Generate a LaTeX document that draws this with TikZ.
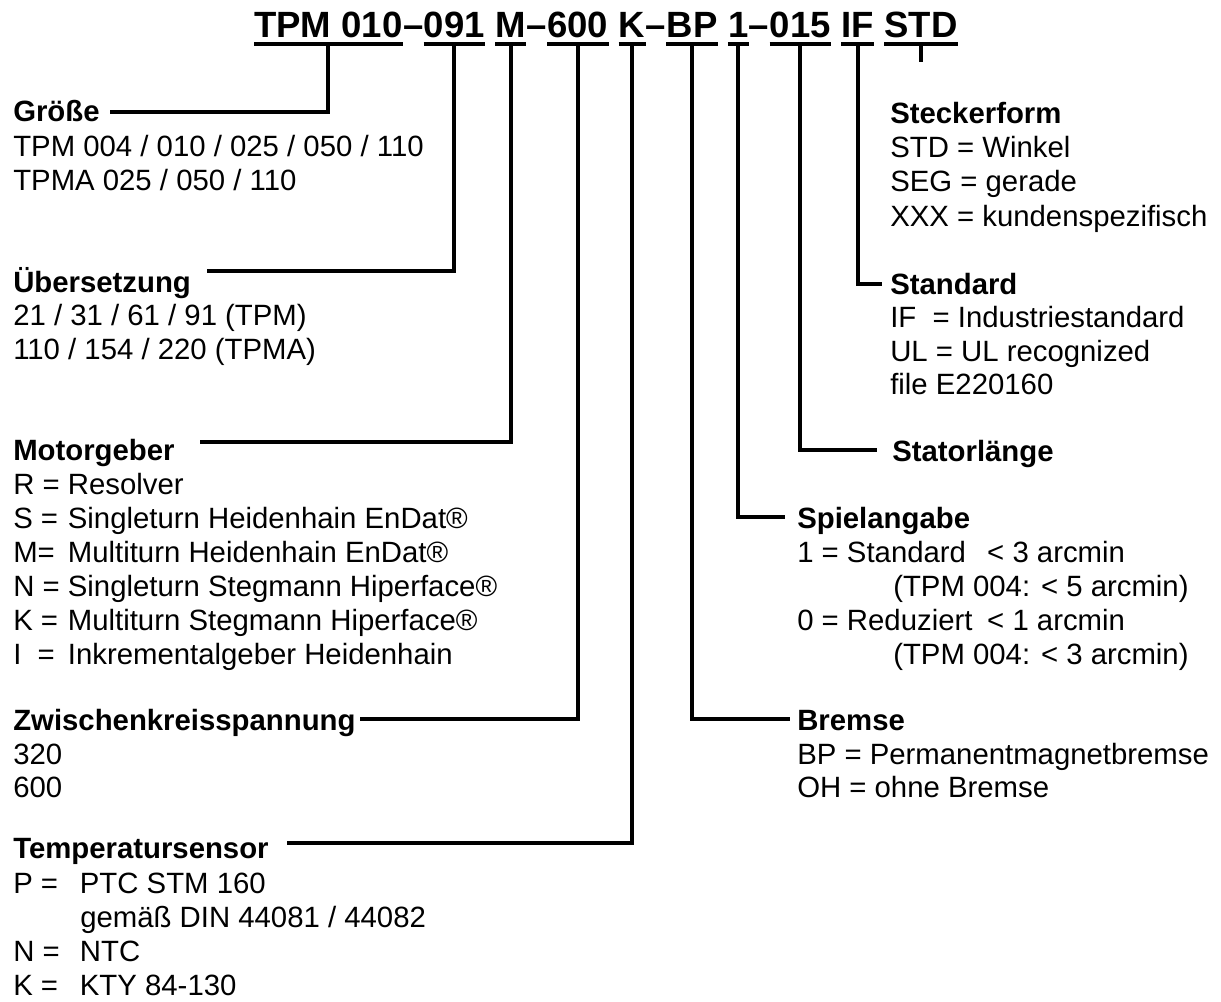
\documentclass[tikz,border=0pt]{standalone}
\usepackage{fontspec}
\setmainfont{Liberation Sans}
\usetikzlibrary{calc}
\begin{document}
\begin{tikzpicture}[x=0.75pt,y=-0.75pt,
  conn/.style={line width=3pt,line cap=butt,line join=miter},
  ttl/.style={font=\fontsize{27.4}{30}\selectfont\bfseries,inner sep=0pt,anchor=base west},
  hd/.style={font=\fontsize{22}{25.5}\selectfont\bfseries,inner sep=0pt,anchor=base west},
  bd/.style={font=\fontsize{22}{25.5}\selectfont,inner sep=0pt,anchor=base west},
]
\useasboundingbox (0,0) rectangle (1221,1002);
\fill[white] (0,0) rectangle (1221,1002);

% ---------- title code ----------
\node[ttl] (t1) at (254,38) {TPM 010};
\node[ttl] (d1) at (t1.base east) {–};
\node[ttl] (t2) at (d1.base east) {091};
\node[ttl] (t3) at ([xshift=7.6pt]t2.base east) {M};
\node[ttl] (d2) at (t3.base east) {–};
\node[ttl] (t4) at (d2.base east) {600};
\node[ttl] (t5) at ([xshift=7.6pt]t4.base east) {K};
\node[ttl] (d3) at (t5.base east) {–};
\node[ttl] (t6) at (d3.base east) {BP};
\node[ttl] (t7) at ([xshift=7.6pt]t6.base east) {1};
\node[ttl] (d4) at (t7.base east) {–};
\node[ttl] (t8) at (d4.base east) {015};
\node[ttl] (t9) at ([xshift=7.6pt]t8.base east) {IF};
\node[ttl] (t10) at ([xshift=7.6pt]t9.base east) {STD};
\foreach \n in {t1,t2,t3,t4,t5,t6,t7,t8,t9,t10}
  \draw[conn] ($(\n.base west)+(0,6)$) -- ($(\n.base east)+(0,6)$);

% ---------- left column ----------
\node[hd] (hGr) at (13,122) {Größe};
\node[bd] (bGr1) at (13,157) {TPM 004 / 010 / 025 / 050 / 110};
\node[bd] (bGr2) at (13,191) {TPMA 025 / 050 / 110};

\node[hd] (hUe) at (13,292) {Übersetzung};
\node[bd] (bUe1) at (13,325) {21 / 31 / 61 / 91 (TPM)};
\node[bd] (bUe2) at (13,359) {110 / 154 / 220 (TPMA)};

\node[hd] (hMo) at (13,460) {Motorgeber};
\node[bd] (bMo1) at (13,494) {\makebox[41pt][l]{R =}Resolver};
\node[bd] (bMo2) at (13,528) {\makebox[41pt][l]{S =}Singleturn Heidenhain EnDat®};
\node[bd] (bMo3) at (13,562) {\makebox[41pt][l]{M=}Multiturn Heidenhain EnDat®};
\node[bd] (bMo4) at (13,596) {\makebox[41pt][l]{N =}Singleturn Stegmann Hiperface®};
\node[bd] (bMo5) at (13,630) {\makebox[41pt][l]{K =}Multiturn Stegmann Hiperface®};
\node[bd] (bMo6) at (13,664) {\makebox[41pt][l]{I\ \ =}Inkrementalgeber Heidenhain};

\node[hd] (hZw) at (13,730) {Zwischenkreisspannung};
\node[bd] (bZw1) at (13,764) {320};
\node[bd] (bZw2) at (13,797) {600};

\node[hd] (hTe) at (13,858) {Temperatursensor};
\node[bd] (bTe1) at (13,893) {\makebox[50pt][l]{P =}PTC STM 160};
\node[bd] (bTe2) at (80,927) {gemäß DIN 44081 / 44082};
\node[bd] (bTe3) at (13,961) {\makebox[50pt][l]{N =}NTC};
\node[bd] (bTe4) at (13,995) {\makebox[50pt][l]{K =}KTY 84-130};

% ---------- right column ----------
\node[hd] (hSt) at (890,124) {Steckerform};
\node[bd] (bSt1) at (890,158) {STD = Winkel};
\node[bd] (bSt2) at (890,192) {SEG = gerade};
\node[bd] (bSt3) at (890,226) {XXX = kundenspezifisch};

\node[hd] (hSd) at (890,294) {Standard};
\node[bd] (bSd1) at (890,327) {IF\ \ = Industriestandard};
\node[bd] (bSd2) at (890,361) {UL = UL recognized};
\node[bd] (bSd3) at (890,394) {file E220160};

\node[hd] (hSl) at (892,461) {Statorlänge};

\node[hd] (hSp) at (797,528) {Spielangabe};
\node[bd] (bSp1) at (797,562) {\makebox[142.5pt][l]{1 = Standard}< 3 arcmin};
\node[bd] (bSp2) at (893,596) {(TPM 004: < 5 arcmin)};
\node[bd] (bSp3) at (797,630) {\makebox[142.5pt][l]{0 = Reduziert}< 1 arcmin};
\node[bd] (bSp4) at (893,664) {(TPM 004: < 3 arcmin)};

\node[hd] (hBr) at (797,730) {Bremse};
\node[bd] (bBr1) at (797,764) {BP = Permanentmagnetbremse};
\node[bd] (bBr2) at (797,797) {OH = ohne Bremse};

% ---------- connectors ----------
\coordinate (g1) at (110,112);
\coordinate (g2) at (207,271);
\coordinate (g3) at (200,442);
\coordinate (g4) at (360,719);
\coordinate (g5) at (287,843);
\coordinate (g6) at (790,719);
\coordinate (g7) at (785,517);
\coordinate (g8) at (877,450);
\coordinate (g9) at (882,284);

\draw[conn] ($(t1.base)+(0,6)$) |- (g1);
\draw[conn] ($(t2.base)+(0,6)$) |- (g2);
\draw[conn] ($(t3.base)+(0,6)$) |- (g3);
\draw[conn] ($(t4.base)+(0,6)$) |- (g4);
\draw[conn] ($(t5.base)+(0,6)$) |- (g5);
\draw[conn] ($(t6.base)+(0,6)$) |- (g6);
\draw[conn] ($(t7.base)+(0,6)$) |- (g7);
\draw[conn] ($(t8.base)+(0,6)$) |- (g8);
\draw[conn] ($(t9.base)+(0,6)$) |- (g9);
\draw[conn] ($(t10.base)+(0,6)$) -- ($(t10.base)+(0,24)$);
\end{tikzpicture}
\end{document}
